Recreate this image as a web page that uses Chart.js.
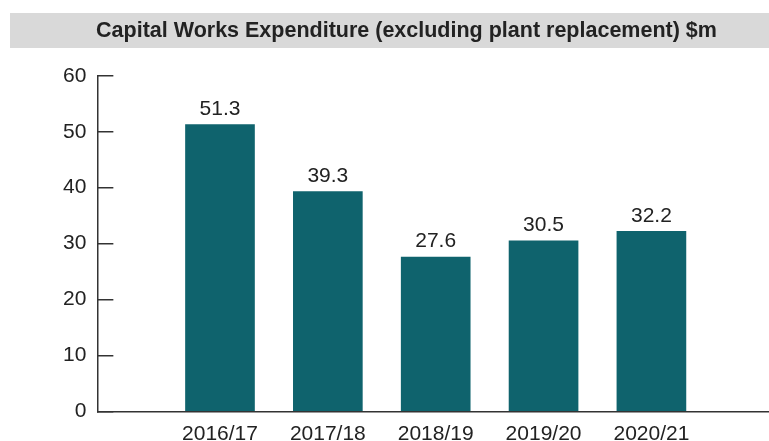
<!DOCTYPE html>
<html>
<head>
<meta charset="utf-8">
<script src="https://cdn.jsdelivr.net/npm/chart.js@4"></script>
<style>
  html, body { margin: 0; padding: 0; background: #fff; overflow: hidden; }
  #wrap { width: 769px; height: 451px; }
</style>
</head>
<body>
<div id="wrap"><canvas id="myChart"></canvas></div>
<script>
const years = ['2016/17', '2017/18', '2018/19', '2019/20', '2020/21'];
const spend = [51.3, 39.3, 27.6, 30.5, 32.2];
const yTicks = [0, 10, 20, 30, 40, 50, 60];

const ink = '#222';
const teal = '#0f636d';
const fam = '"Liberation Sans", Arial, sans-serif';

// grey band behind the title
const titleBand = {
  id: 'titleBand',
  afterLayout(chart) {
    // nudge title centre to the right like the original
    chart.titleBlock.left = 45;
  },
  beforeDraw(chart) {
    const c = chart.ctx;
    c.save();
    c.fillStyle = '#d9d9d9';
    c.fillRect(10, 13, 759, 35);
    c.restore();
  }
};

// value on top of each bar
const barValues = {
  id: 'barValues',
  afterDatasetsDraw(chart) {
    const c = chart.ctx;
    const meta = chart.getDatasetMeta(0);
    c.save();
    c.font = '21px ' + fam;
    c.fillStyle = ink;
    c.textAlign = 'center';
    c.textBaseline = 'bottom';
    meta.data.forEach((bar, i) => {
      c.fillText(spend[i].toFixed(1), bar.x, bar.y - 5);
    });
    c.restore();
  }
};

const ctx = document.getElementById('myChart');

new Chart(ctx, {
  type: 'bar',
  data: {
    datasets: [{
      label: 'Capital Works Expenditure',
      data: spend.map((v, i) => ({ x: i, y: v })),
      backgroundColor: teal,
      barThickness: 69,
    }]
  },
  plugins: [titleBand, barValues],
  options: {
    responsive: true,
    maintainAspectRatio: false,
    animation: false,
    layout: { padding: { left: 36, right: 1, top: 0, bottom: -12 } },
    plugins: {
      legend: { display: false },
      tooltip: { enabled: false },
      title: {
        display: true,
        text: 'Capital Works Expenditure (excluding plant replacement) $m',
        color: ink,
        font: { family: fam, size: 21.5, weight: 'bold' },
        padding: { top: 18, bottom: 32 }
      }
    },
    scales: {
      x: {
        type: 'linear',
        offset: false,
        min: -1.137,
        max: 5.081,
        afterBuildTicks(scale) {
          scale.ticks = years.map((y, i) => ({ value: i }));
        },
        grid: { display: false, drawTicks: false },
        border: { display: true, color: '#333', width: 1.5 },
        ticks: {
          color: ink,
          padding: 10,
          font: { family: fam, size: 21 },
          callback: (v) => years[v]
        }
      },
      y: {
        min: 0,
        max: 60,
        afterBuildTicks(scale) {
          scale.ticks = yTicks.map(v => ({ value: v }));
        },
        grid: {
          drawOnChartArea: false,
          drawTicks: true,
          tickLength: -16,
          color: '#333',
          lineWidth: 1.5
        },
        border: { display: true, color: '#333', width: 1.5 },
        ticks: {
          color: ink,
          padding: 27,
          font: { family: fam, size: 21 }
        }
      }
    }
  }
});
</script>
</body>
</html>
